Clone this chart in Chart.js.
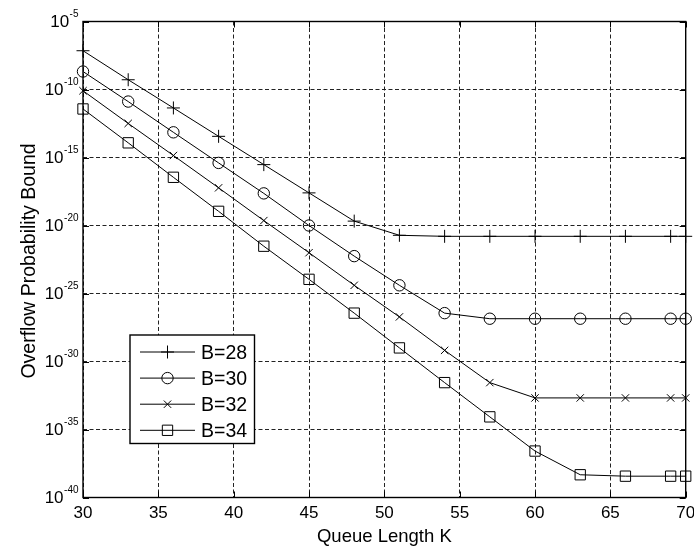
<!DOCTYPE html>
<html>
<head>
<meta charset="utf-8">
<script src="https://cdn.jsdelivr.net/npm/chart.js@4/dist/chart.umd.min.js"></script>
<style>
  html, body { margin: 0; padding: 0; background: #fff; }
  #wrap { width: 694px; height: 550px; }
</style>
</head>
<body>
<div id="wrap"><canvas id="c" width="694" height="550"></canvas></div>
<script>
// ---- data ----
const queueLength = [30, 33, 36, 39, 42, 45, 48, 51, 54, 57, 60, 63, 66, 69, 70];
const seriesLabels = ['B=28', 'B=30', 'B=32', 'B=34'];
const b28 = [7.1e-8, 5.2e-10, 4.4e-12, 3.6e-14, 3.0e-16, 2.5e-18, 2.1e-20, 1.9e-21, 1.6e-21, 1.6e-21, 1.6e-21, 1.6e-21, 1.6e-21, 1.6e-21, 1.6e-21];
const b30 = [2.1e-9, 1.3e-11, 7.1e-14, 4.0e-16, 2.3e-18, 1.0e-20, 5.6e-23, 4.0e-25, 3.6e-27, 1.4e-27, 1.4e-27, 1.4e-27, 1.4e-27, 1.4e-27, 1.4e-27];
const b32 = [8.1e-11, 3.2e-13, 1.4e-15, 5.9e-18, 2.3e-20, 1.0e-22, 4.0e-25, 1.9e-27, 6.6e-30, 2.8e-32, 2.1e-33, 2.1e-33, 2.1e-33, 2.1e-33, 2.1e-33];
const b34 = [3.7e-12, 1.2e-14, 3.5e-17, 1.1e-19, 3.0e-22, 1.1e-24, 3.6e-27, 1.0e-29, 2.8e-32, 8.5e-35, 2.6e-37, 4.7e-39, 3.7e-39, 3.7e-39, 3.7e-39];
const xTicks = [30, 35, 40, 45, 50, 55, 60, 65, 70];
const yTickExponents = [-40, -35, -30, -25, -20, -15, -10, -5];
const xTitle = 'Queue Length K';
const yTitle = 'Overflow Probability Bound';

const FONT = "'Liberation Sans', Arial, Helvetica, sans-serif";
const styles = ['cross', 'circle', 'crossRot', 'rect'];
const radii = [6.5, 5.7, 5.2, 7.3];
const allSeries = [b28, b30, b32, b34];

const datasets = allSeries.map((s, i) => ({
  label: seriesLabels[i],
  data: queueLength.map((k, j) => ({ x: k, y: s[j] })),
  borderColor: '#000',
  borderWidth: 1,
  pointStyle: styles[i],
  pointRadius: radii[i],
  pointHoverRadius: radii[i],
  pointBorderColor: '#000',
  pointBackgroundColor: 'rgba(0,0,0,0)',
  pointBorderWidth: 1,
  tension: 0,
  fill: false,
  clip: false
}));

function drawMarker(ctx, style, r, x, y) {
  ctx.beginPath();
  if (style === 'cross') {
    ctx.moveTo(x - r, y); ctx.lineTo(x + r, y);
    ctx.moveTo(x, y - r); ctx.lineTo(x, y + r);
  } else if (style === 'circle') {
    ctx.arc(x, y, r, 0, Math.PI * 2);
  } else if (style === 'crossRot') {
    const d = r * Math.SQRT1_2;
    ctx.moveTo(x - d, y - d); ctx.lineTo(x + d, y + d);
    ctx.moveTo(x - d, y + d); ctx.lineTo(x + d, y - d);
  } else if (style === 'rect') {
    const d = r * Math.SQRT1_2;
    ctx.rect(x - d, y - d, 2 * d, 2 * d);
  }
  ctx.stroke();
}

const decorPlugin = {
  id: 'decor',
  afterDraw(chart) {
    const ctx = chart.ctx;
    const a = chart.chartArea;
    const xs = chart.scales.x, ys = chart.scales.y;
    ctx.save();
    ctx.strokeStyle = '#000';
    ctx.fillStyle = '#000';
    ctx.setLineDash([]);

    // inward tick marks
    ctx.lineWidth = 1;
    const tl = 6;
    ctx.beginPath();
    xTicks.forEach(v => {
      const px = Math.round(xs.getPixelForValue(v)) + 0.5;
      ctx.moveTo(px, a.bottom); ctx.lineTo(px, a.bottom - tl);
      ctx.moveTo(px, a.top); ctx.lineTo(px, a.top + tl);
    });
    yTickExponents.forEach(e => {
      const py = Math.round(ys.getPixelForValue(Math.pow(10, e))) + 0.5;
      ctx.moveTo(a.left, py); ctx.lineTo(a.left + tl, py);
      ctx.moveTo(a.right, py); ctx.lineTo(a.right - tl, py);
    });
    ctx.stroke();

    // axes box
    ctx.lineWidth = 1.4;
    ctx.strokeRect(a.left, a.top, a.right - a.left, a.bottom - a.top);

    // x tick labels
    ctx.font = '17px ' + FONT;
    ctx.textAlign = 'center';
    ctx.textBaseline = 'alphabetic';
    xTicks.forEach(v => {
      ctx.fillText(String(v), xs.getPixelForValue(v), a.bottom + 20);
    });

    // y tick labels (10 with superscript exponent)
    yTickExponents.forEach(e => {
      const py = ys.getPixelForValue(Math.pow(10, e));
      const right = a.left - 4.5;
      ctx.font = '10px ' + FONT;
      ctx.textAlign = 'right';
      const expStr = String(e);
      const w = ctx.measureText(expStr).width;
      ctx.fillText(expStr, right, py - 5);
      ctx.font = '17px ' + FONT;
      ctx.fillText('10', right - w - 0.5, py + 5.8);
    });

    // axis titles
    ctx.font = '18.5px ' + FONT;
    ctx.textAlign = 'center';
    ctx.fillText(xTitle, (a.left + a.right) / 2, 542);
    ctx.save();
    ctx.translate(34.5, 261);
    ctx.rotate(-Math.PI / 2);
    ctx.font = '19.5px ' + FONT;
    ctx.fillText(yTitle, 0, 0);
    ctx.restore();

    // legend
    const lx = 130, ly = 335, lw = 124.5, lh = 108.5;
    ctx.fillStyle = '#fff';
    ctx.fillRect(lx, ly, lw, lh);
    ctx.lineWidth = 1.4;
    ctx.strokeStyle = '#000';
    ctx.strokeRect(lx, ly, lw, lh);
    ctx.fillStyle = '#000';
    ctx.font = '19.5px ' + FONT;
    ctx.textAlign = 'left';
    seriesLabels.forEach((lab, i) => {
      const cy = 352 + i * 26.1;
      ctx.lineWidth = 1;
      ctx.beginPath();
      ctx.moveTo(140, cy); ctx.lineTo(195, cy);
      ctx.stroke();
      drawMarker(ctx, styles[i], radii[i], 167.5, cy);
      ctx.fillText(lab, 201, cy + 7);
    });
    ctx.restore();
  }
};

new Chart(document.getElementById('c'), {
  type: 'line',
  data: { datasets },
  options: {
    responsive: false,
    animation: false,
    events: [],
    layout: { padding: { left: 83, right: 6.5, top: 21.5, bottom: 52.5 } },
    plugins: { legend: { display: false }, tooltip: { enabled: false }, title: { display: false } },
    scales: {
      x: {
        type: 'linear',
        min: 30, max: 70,
        afterBuildTicks: s => { s.ticks = xTicks.map(v => ({ value: v })); },
        ticks: { display: false },
        grid: { color: '#222', lineWidth: 1, drawTicks: false },
        border: { display: false, dash: [4, 2.5] }
      },
      y: {
        type: 'logarithmic',
        min: 1e-40, max: 1e-5,
        afterBuildTicks: s => { s.ticks = yTickExponents.map(e => ({ value: Math.pow(10, e) })); },
        ticks: { display: false },
        grid: { color: '#222', lineWidth: 1, drawTicks: false },
        border: { display: false, dash: [4, 2.5] }
      }
    }
  },
  plugins: [decorPlugin]
});
</script>
</body>
</html>
